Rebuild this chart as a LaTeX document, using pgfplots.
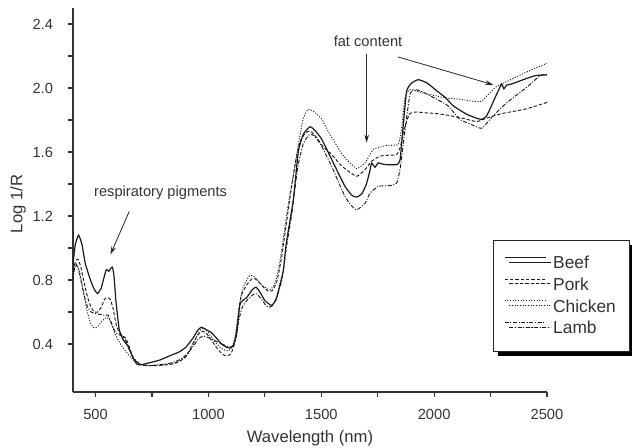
\documentclass[border=0pt]{standalone}
\usepackage{fontspec}
\setmainfont{Liberation Sans}
\usepackage{pgfplots}
\pgfplotsset{compat=1.18}
\usetikzlibrary{arrows.meta,shadows}

\definecolor{txt}{HTML}{333333}
\definecolor{ln}{HTML}{1A1A1A}

\begin{document}
\begin{tikzpicture}
\useasboundingbox (0,0) rectangle (474pt,336pt);
\begin{axis}[
    at={(54.75pt,42pt)}, anchor=south west,
    scale only axis, width=355.5pt, height=288pt,
    xmin=400, xmax=2500, ymin=0.1, ymax=2.5,
    axis x line*=bottom, axis y line*=left,
    axis line style={black!80, line width=0.9pt, -},
    xtick={500,1000,1500,2000,2500},
    ytick={0.4,0.8,1.2,1.6,2.0,2.4},
    minor x tick num=1, minor y tick num=1,
    tick align=outside,
    major tick length=3.5pt, minor tick length=3.5pt,
    tick style={black!80, line width=0.8pt},
    /pgf/number format/assume math mode=true,
    /pgf/number format/1000 sep={},
    yticklabel={\pgfmathprintnumber[fixed,fixed zerofill,precision=1]{\tick}},
    ticklabel style={font=\fontsize{11}{13}\selectfont, text=txt},
    yticklabel style={xshift=-8pt},
    xticklabel style={yshift=-6pt},
    xlabel={Wavelength (nm)}, ylabel={Log 1/R},
    label style={font=\fontsize{12.5}{15}\selectfont, text=txt},
    xlabel style={at={(axis description cs:0.5,-0.12)}, anchor=center},
    ylabel style={at={(axis description cs:-0.116,0.49)}, anchor=center},
    clip=false,
    legend style={at={(0.886,0.396)}, anchor=north west,
        draw=black!85, line width=0.6pt, fill=white,
        font=\fontsize{13}{15}\selectfont, text=txt,
        inner xsep=8pt, inner ysep=10pt, row sep=1.3pt, column sep=3pt,
        drop shadow={shadow xshift=3.5pt, shadow yshift=-3.5pt, fill=black, opacity=1}},
    legend cell align=left,
    legend image code/.code={\draw[#1] (0pt,4.6pt) -- (31pt,4.6pt);},
]

% Beef
\addplot[ln, line width=0.9pt, smooth, tension=0.3] coordinates {
(400,0.90) (410,1.02) (425,1.08) (440,1.02) (455,0.90) (480,0.79) (495,0.74)
(509,0.715) (525,0.75) (540,0.83) (548,0.865) (558,0.855) (566,0.87) (575,0.88)
(582,0.82) (590,0.67) (605,0.49) (625,0.42) (642,0.39) (664,0.32) (682,0.275)
(700,0.27) (726,0.278) (760,0.29) (785,0.30) (830,0.327) (870,0.35) (900,0.38)
(933,0.44) (955,0.49) (970,0.505) (990,0.49) (1014,0.47) (1040,0.43) (1058,0.40)
(1080,0.38) (1095,0.375) (1110,0.39) (1125,0.46) (1140,0.65) (1169,0.69)
(1195,0.74) (1211,0.755) (1230,0.72) (1251,0.67) (1280,0.641) (1300,0.68)
(1315,0.76) (1332,0.86) (1345,1.03) (1376,1.30) (1398,1.60) (1420,1.71)
(1450,1.758) (1475,1.73) (1502,1.68) (1530,1.60) (1561,1.51) (1605,1.385)
(1635,1.33) (1657,1.318) (1680,1.34) (1700,1.40) (1715,1.48) (1723,1.53)
(1738,1.505) (1752,1.532) (1770,1.525) (1790,1.521) (1834,1.521) (1849,1.55)
(1862,1.75) (1878,1.98) (1900,2.03) (1930,2.052) (1970,2.03) (2011,1.983)
(2050,1.94) (2085,1.888) (2144,1.836) (2190,1.81) (2211,1.804) (2230,1.82)
(2247,1.867) (2270,1.94) (2284,1.982) (2299,2.025) (2309,1.995) (2321,2.018)
(2343,2.025) (2395,2.052) (2447,2.077) (2500,2.082)
};
\addlegendentry{Beef}

% Pork
\addplot[ln, line width=0.7pt, dash pattern=on 2.5pt off 1.5pt, smooth, tension=0.3] coordinates {
(400,0.86) (412,0.92) (422,0.93) (435,0.88) (450,0.78) (465,0.69) (480,0.63)
(495,0.60) (510,0.60) (525,0.63) (540,0.68) (552,0.69) (565,0.68) (578,0.62)
(590,0.53) (605,0.47) (620,0.45) (632,0.44) (645,0.40) (665,0.32) (690,0.275)
(720,0.265) (760,0.265) (800,0.268) (840,0.275) (870,0.29) (900,0.32) (930,0.40)
(955,0.46) (975,0.48) (995,0.46) (1020,0.41) (1045,0.36) (1070,0.33) (1085,0.327)
(1100,0.34) (1115,0.40) (1130,0.55) (1145,0.70) (1170,0.77) (1195,0.81)
(1215,0.80) (1240,0.76) (1265,0.73) (1285,0.735) (1305,0.80) (1325,0.95)
(1345,1.15) (1365,1.35) (1385,1.53) (1405,1.66) (1430,1.72) (1452,1.73)
(1480,1.69) (1510,1.63) (1546,1.585) (1585,1.52) (1620,1.48) (1657,1.448)
(1694,1.49) (1723,1.542) (1760,1.574) (1800,1.58) (1834,1.584) (1850,1.63)
(1863,1.72) (1880,1.80) (1893,1.84) (1920,1.85) (1960,1.845) (2011,1.84)
(2060,1.83) (2129,1.81) (2188,1.79) (2230,1.81) (2262,1.825) (2300,1.84)
(2336,1.85) (2410,1.87) (2500,1.91)
};
\addlegendentry{Pork}

% Chicken
\addplot[ln, line width=0.7pt, dash pattern=on 0.8pt off 1.2pt, smooth, tension=0.3] coordinates {
(400,0.85) (415,0.90) (430,0.85) (445,0.74) (460,0.62) (478,0.53) (494,0.50)
(510,0.51) (530,0.545) (549,0.567) (562,0.55) (575,0.51) (586,0.463) (610,0.40)
(638,0.347) (660,0.31) (682,0.284) (710,0.27) (760,0.265) (810,0.27) (850,0.28)
(880,0.30) (910,0.34) (940,0.42) (960,0.48) (975,0.50) (995,0.48) (1020,0.43)
(1050,0.38) (1075,0.36) (1090,0.36) (1105,0.38) (1120,0.46) (1135,0.62)
(1150,0.74) (1170,0.80) (1185,0.83) (1205,0.82) (1235,0.77) (1260,0.745)
(1275,0.74) (1295,0.78) (1315,0.90) (1339,1.13) (1360,1.33) (1383,1.51)
(1400,1.66) (1420,1.81) (1442,1.867) (1470,1.85) (1502,1.805) (1530,1.73)
(1561,1.658) (1590,1.59) (1620,1.542) (1657,1.496) (1694,1.532) (1730,1.616)
(1760,1.63) (1790,1.641) (1841,1.648) (1856,1.75) (1871,1.94) (1890,1.99)
(1910,1.985) (1960,1.965) (2011,1.95) (2060,1.935) (2114,1.93) (2173,1.917)
(2210,1.917) (2240,1.96) (2277,2.01) (2336,2.05) (2410,2.10) (2500,2.155)
};
\addlegendentry{Chicken}

% Lamb
\addplot[ln, line width=0.7pt, dash pattern=on 3pt off 1.2pt on 0.8pt off 1.2pt, smooth, tension=0.3] coordinates {
(400,0.80) (410,0.90) (420,0.88) (435,0.80) (450,0.70) (465,0.63) (480,0.60)
(500,0.59) (520,0.585) (540,0.58) (556,0.58) (565,0.55) (585,0.48) (600,0.46)
(616,0.452) (630,0.43) (645,0.38) (667,0.316) (697,0.274) (730,0.265) (780,0.27)
(830,0.28) (870,0.30) (900,0.33) (930,0.38) (955,0.43) (975,0.45) (1000,0.44)
(1030,0.42) (1060,0.40) (1085,0.385) (1103,0.383) (1118,0.42) (1135,0.55)
(1150,0.63) (1175,0.68) (1200,0.71) (1214,0.714) (1235,0.68) (1250,0.65)
(1265,0.63) (1285,0.64) (1305,0.70) (1325,0.80) (1345,1.00) (1370,1.22)
(1395,1.50) (1420,1.65) (1448,1.71) (1470,1.70) (1500,1.64) (1546,1.51)
(1580,1.40) (1605,1.322) (1630,1.27) (1657,1.238) (1694,1.28) (1716,1.343)
(1752,1.385) (1804,1.39) (1834,1.406) (1850,1.50) (1871,1.74) (1893,1.96)
(1915,1.99) (1950,1.975) (2011,1.93) (2060,1.89) (2114,1.804) (2160,1.775)
(2210,1.748) (2254,1.815) (2306,1.888) (2350,1.94) (2410,2.004) (2469,2.077)
(2500,2.085)
};
\addlegendentry{Lamb}

% annotations
\node[font=\fontsize{11}{13}\selectfont, text=txt] at (axis cs:788,1.343) {respiratory pigments};
\draw[black!85, line width=0.6pt, -{Stealth[length=6pt,width=3.5pt]}] (axis cs:649,1.228) -- (axis cs:566,0.96);
\node[font=\fontsize{11}{13}\selectfont, text=txt] at (axis cs:1707,2.289) {fat content};
\draw[black!85, line width=0.6pt, -{Stealth[length=6pt,width=3.5pt]}] (axis cs:1701,2.213) -- (axis cs:1701,1.658);
\draw[black!85, line width=0.6pt, -{Stealth[length=6pt,width=3.5pt]}] (axis cs:1840,2.194) -- (axis cs:2262,2.02);
\end{axis}
\end{tikzpicture}
\end{document}
